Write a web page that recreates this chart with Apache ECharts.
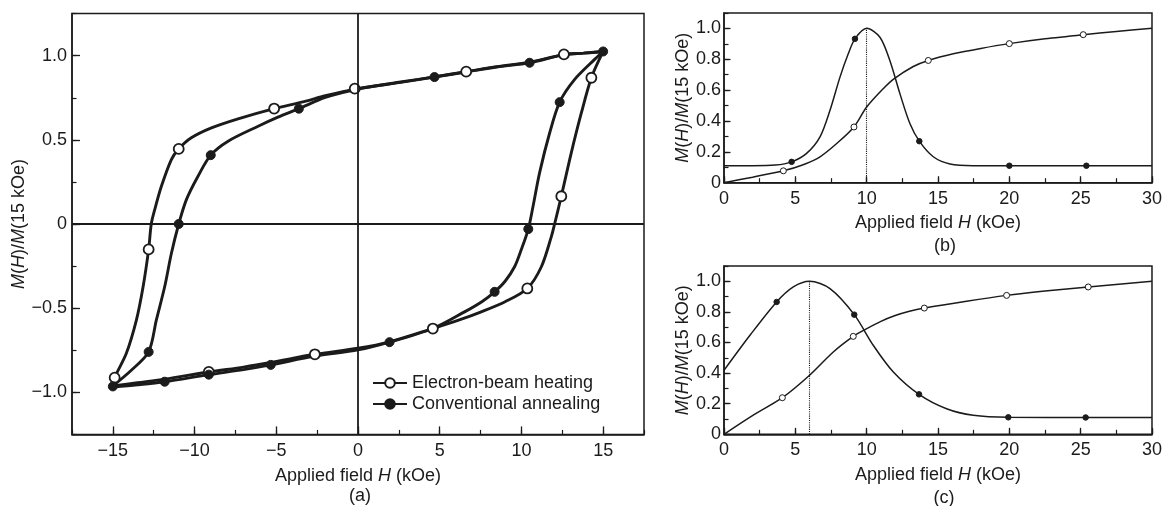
<!DOCTYPE html>
<html><head><meta charset="utf-8">
<script src="https://cdn.jsdelivr.net/npm/echarts@6/dist/echarts.min.js"></script>
<style>html,body{margin:0;padding:0;background:#fff}#c{width:1165px;height:506px}</style>
</head><body><div id="c"></div>
<script>
// ---------------- data ----------------
const seriesNames = ['Electron-beam heating', 'Conventional annealing'];

// panel (a): hysteresis loops, [H (kOe), M(H)/M(15 kOe)]
const ebUpperA = [[15.0,1.025],[13.8,1.015],[12.6,1.006],[10.5,0.962],[8.5,0.935],[6.62,0.905],[4.68,0.874],[2.5,0.842],[0,0.804],[-2,0.762],[-3.3,0.727],[-5.13,0.686],[-7.34,0.625],[-8.97,0.571],[-10.2,0.512],[-10.97,0.446],[-11.42,0.383],[-12.03,0.224],[-12.44,0.085],[-12.65,0],[-12.81,-0.151],[-13.15,-0.373],[-13.56,-0.571],[-14.18,-0.77],[-14.89,-0.913],[-15.0,-0.962]];
const ebLowerA = [[-15.0,-0.962],[-13.5,-0.943],[-11.83,-0.922],[-9.13,-0.879],[-7,-0.85],[-5.34,-0.823],[-2.64,-0.774],[0,-0.738],[1.93,-0.700],[4.58,-0.621],[6.2,-0.57],[7.54,-0.522],[9.0,-0.462],[10.36,-0.383],[11.22,-0.254],[11.83,-0.075],[12.03,0],[12.44,0.165],[13.05,0.423],[13.67,0.661],[14.28,0.869],[15.0,1.025]];
const caUpperA = [[15.0,1.025],[13.8,1.015],[12.6,1.006],[10.5,0.958],[8.5,0.933],[6.62,0.903],[4.68,0.873],[2.5,0.84],[0,0.802],[-2,0.752],[-3.62,0.685],[-4.9,0.635],[-6.11,0.581],[-7.95,0.492],[-9.01,0.409],[-9.79,0.284],[-10.5,0.145],[-10.97,0],[-11.42,-0.175],[-11.83,-0.373],[-12.34,-0.571],[-12.81,-0.76],[-13.87,-0.869],[-15.0,-0.962]];
const caLowerA = [[-15.0,-0.968],[-13.5,-0.955],[-11.83,-0.937],[-9.13,-0.895],[-7,-0.865],[-5.34,-0.837],[-2.64,-0.785],[0,-0.748],[1.93,-0.702],[4.58,-0.621],[6.52,-0.522],[7.6,-0.46],[8.36,-0.403],[9.0,-0.34],[9.58,-0.254],[10.0,-0.15],[10.42,-0.03],[10.7,0.1],[11.11,0.304],[11.73,0.542],[12.34,0.724],[13.26,0.859],[14.48,0.978],[15.0,1.025]];
const ebMarksA = [[12.6,1.008],[6.62,0.905],[-0.2,0.804],[-5.13,0.686],[-10.97,0.446],[-12.81,-0.151],[-14.89,-0.913],[-9.13,-0.879],[-2.64,-0.774],[4.58,-0.621],[10.36,-0.383],[12.44,0.165],[14.28,0.869]];
const caMarksA = [[15.0,1.025],[10.5,0.958],[4.68,0.873],[-3.62,0.685],[-9.01,0.409],[-10.97,0],[-12.81,-0.76],[-11.83,-0.937],[-9.13,-0.895],[-5.34,-0.837],[1.93,-0.702],[8.36,-0.403],[10.42,-0.03],[12.34,0.724],[-15.0,-0.965]];

// panel (b)
const bellB = [[0,0.11],[2,0.11],[3.6,0.114],[4.74,0.135],[5.79,0.19],[6.73,0.297],[7.43,0.469],[8.13,0.684],[8.71,0.835],[9.18,0.932],[10.0,1.0],[10.93,0.942],[11.63,0.79],[12.33,0.577],[13.03,0.383],[13.69,0.269],[14.67,0.168],[15.84,0.121],[17.47,0.11],[20,0.11],[25.4,0.11],[30,0.11]];
const sigB = [[0,0],[2,0.036],[4.16,0.077],[5.5,0.115],[6.73,0.168],[7.9,0.254],[9.11,0.361],[10.0,0.49],[11.16,0.609],[11.91,0.673],[13.27,0.753],[14.32,0.792],[16.07,0.835],[18,0.87],[20,0.901],[22.5,0.932],[25.18,0.959],[27.5,0.98],[30,1.0]];
const bellMarksB = [[4.74,0.135],[9.18,0.932],[13.69,0.269],[20,0.11],[25.4,0.11]];
const sigMarksB = [[4.16,0.077],[9.11,0.361],[14.32,0.792],[20,0.901],[25.18,0.959]];
const peakB = [10, 1.0];

// panel (c)
const bellC = [[0,0.418],[1.82,0.647],[3.69,0.865],[4.86,0.963],[6.0,1.0],[7.43,0.952],[9.13,0.782],[10.46,0.582],[11.87,0.407],[13.67,0.261],[15.6,0.167],[17.47,0.124],[19.93,0.111],[25.35,0.11],[30,0.11]];
const sigC = [[0,0],[2.05,0.125],[4.09,0.239],[6.0,0.386],[7.66,0.538],[9.06,0.64],[9.88,0.684],[11.0,0.738],[12.0,0.776],[13.0,0.804],[14.04,0.825],[17,0.87],[19.81,0.908],[22.5,0.936],[25.53,0.963],[30,1.0]];
const bellMarksC = [[3.69,0.865],[9.13,0.782],[13.67,0.261],[19.93,0.111],[25.35,0.11]];
const sigMarksC = [[4.09,0.239],[9.06,0.64],[14.04,0.825],[19.81,0.908],[25.53,0.963]];
const peakC = [6, 1.0];

// tick labels
const xTicksA = [-15,-10,-5,0,5,10,15];
const yTicksA = [-1,-0.5,0,0.5,1];
const xTicksBC = [0,5,10,15,20,25,30];
const yTicksBC = [0,0.2,0.4,0.6,0.8,1.0];
const captions = ['(a)','(b)','(c)'];

// ---------------- styling / building ----------------
const ink = '#1b1b1b';
const ff = '"Liberation Sans", Arial, Helvetica, sans-serif';
const isIn = (v, arr) => arr.some(t => Math.abs(t - v) < 1e-6);
const fmtX = v => String(Math.round(v)).replace('-', '\u2212');
const fmtY = v => (Math.abs(v) < 1e-9 ? '0' : v.toFixed(1)).replace('-', '\u2212');

const xName = '{r|Applied field }{i|H}{r| (kOe)}';
const yName = '{i|M}{r|(}{i|H}{r|)/}{i|M}{r|(15 kOe)}';
const nameStyle = {
  color: ink, fontSize: 18, fontFamily: ff,
  rich: { r: {fontSize: 18, fontFamily: ff, color: ink}, i: {fontSize: 18, fontFamily: ff, fontStyle: 'italic', color: ink} }
};

function mainAxis(kind, grid, min, max, step, majors, fmt, labelMargin, nameGap) {
  return {
    type: 'value', gridIndex: grid, min: min, max: max, interval: step,
    position: kind === 'x' ? 'bottom' : 'left',
    name: kind === 'x' ? xName : yName,
    nameLocation: 'middle', nameGap: nameGap, nameTextStyle: nameStyle,
    axisLine: {show: true, onZero: false, lineStyle: {color: ink, width: 1.5}},
    axisTick: {show: true, inside: true, length: 4.5, lineStyle: {color: ink, width: 1.2}},
    axisLabel: {show: true, color: ink, fontSize: 18, fontFamily: ff, margin: labelMargin,
      formatter: v => isIn(v, majors) ? fmt(v) : ''},
    splitLine: {show: false}
  };
}
function majorAxis(kind, grid, min, max, majors, len) {
  return {
    type: 'value', gridIndex: grid, min: min, max: max,
    position: kind === 'x' ? 'bottom' : 'left',
    axisLine: {show: false, onZero: false},
    axisTick: {show: true, inside: true, length: len, customValues: majors, lineStyle: {color: ink, width: 1.3}},
    axisLabel: {show: false},
    splitLine: {show: false}
  };
}

const gridBase = {show: true, borderColor: ink, borderWidth: 1.5, backgroundColor: 'transparent', containLabel: false};
const grids = [
  Object.assign({left: 72, top: 13.6, width: 572, height: 420.8}, gridBase),
  Object.assign({left: 724, top: 12.9, width: 428, height: 169.8}, gridBase),
  Object.assign({left: 724, top: 266, width: 428, height: 168.3}, gridBase)
];

const xAxes = [
  mainAxis('x', 0, -17.5, 17.5, 2.5, xTicksA, fmtX, 8, 33),
  majorAxis('x', 0, -17.5, 17.5, xTicksA, 8),
  mainAxis('x', 1, 0, 30, 2.5, xTicksBC, fmtX, 7, 31),
  majorAxis('x', 1, 0, 30, xTicksBC, 6.5),
  mainAxis('x', 2, 0, 30, 2.5, xTicksBC, fmtX, 7, 32),
  majorAxis('x', 2, 0, 30, xTicksBC, 6.5)
];
const yAxes = [
  mainAxis('y', 0, -1.25, 1.25, 0.25, yTicksA, fmtY, 5, 43),
  majorAxis('y', 0, -1.25, 1.25, yTicksA, 8),
  mainAxis('y', 1, 0, 1.1, 0.1, yTicksBC, fmtY, 3, 28),
  majorAxis('y', 1, 0, 1.1, yTicksBC, 6.5),
  mainAxis('y', 2, 0, 1.1, 0.1, yTicksBC, fmtY, 3, 28),
  majorAxis('y', 2, 0, 1.1, yTicksBC, 6.5)
];

function curve(name, data, ax, symbol, width, smoothOpt, extra) {
  return Object.assign({
    type: 'line', name: name, data: data, xAxisIndex: ax, yAxisIndex: ax,
    smooth: smoothOpt, symbol: symbol, symbolSize: 10, showSymbol: false,
    lineStyle: {color: ink, width: width},
    itemStyle: {color: ink, borderColor: ink, borderWidth: 1.8},
    z: 2, silent: true, animation: false
  }, extra || {});
}
function marks(data, ax, open, size, bw) {
  return {
    type: 'scatter', data: data, xAxisIndex: ax, yAxisIndex: ax,
    symbol: 'circle', symbolSize: size,
    itemStyle: {color: open ? '#ffffff' : ink, borderColor: ink, borderWidth: bw, opacity: 1},
    z: 4, silent: true, animation: false
  };
}
const zeroLines = {
  silent: true, symbol: ['none', 'none'], animation: false,
  label: {show: false}, lineStyle: {color: ink, width: 1.8, type: 'solid'},
  data: [{xAxis: 0}, {yAxis: 0}]
};
function peakLine(p) {
  return {
    silent: true, symbol: ['none', 'none'], animation: false,
    label: {show: false}, lineStyle: {color: ink, width: 1.1, type: 'dotted'},
    data: [[{coord: [p[0], 0]}, {coord: [p[0], p[1]]}]]
  };
}

const series = [
  curve(seriesNames[0], ebUpperA, 0, 'emptyCircle', 2.9, 0.3, {markLine: zeroLines}),
  curve(seriesNames[0], ebLowerA, 0, 'emptyCircle', 2.9, 0.3),
  curve(seriesNames[1], caUpperA, 0, 'circle', 2.9, 0.3),
  curve(seriesNames[1], caLowerA, 0, 'circle', 2.9, 0.3),
  marks(ebMarksA, 0, true, 10, 1.8),
  marks(caMarksA, 0, false, 9, 1),
  curve('bellB', bellB, 2, 'none', 1.5, 0.3, {markLine: peakLine(peakB)}),
  curve('sigB', sigB, 2, 'none', 1.5, 0.3),
  marks(bellMarksB, 2, false, 5.5, 1),
  marks(sigMarksB, 2, true, 6, 1),
  curve('bellC', bellC, 4, 'none', 1.5, 0.3, {markLine: peakLine(peakC)}),
  curve('sigC', sigC, 4, 'none', 1.5, 0.3),
  marks(bellMarksC, 4, false, 5.5, 1),
  marks(sigMarksC, 4, true, 6, 1)
];

const capPos = [[360, 496], [945, 246], [944, 498]];
const graphics = captions.map((t, i) => ({
  type: 'text', x: capPos[i][0], y: capPos[i][1], silent: true,
  style: {text: t, fill: ink, font: '18px ' + ff, textAlign: 'center', textVerticalAlign: 'middle'}
}));

const option = {
  backgroundColor: '#ffffff',
  animation: false,
  grid: grids,
  xAxis: xAxes,
  yAxis: yAxes,
  legend: {
    data: seriesNames, orient: 'vertical', left: 367, top: 369,
    itemWidth: 34, itemHeight: 12, itemGap: 3,
    textStyle: {color: ink, fontSize: 18, fontFamily: ff},
    selectedMode: false
  },
  graphic: graphics,
  series: series
};

const chart = echarts.init(document.getElementById('c'), null, {renderer: 'canvas'});
chart.setOption(option);
</script>
</body></html>
